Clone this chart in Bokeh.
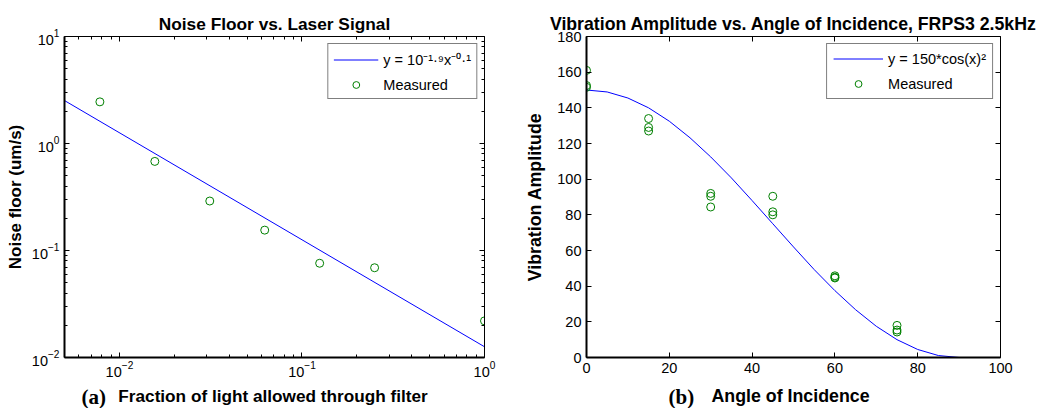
from bokeh.plotting import figure
from bokeh.models import (Range1d, FixedTicker, LogAxis, LinearAxis, Legend, LegendItem,
                          CustomJSTickFormatter, LogTickFormatter)
from bokeh.core.properties import value
from bokeh.layouts import row, column
from bokeh.embed import file_html
from bokeh.resources import INLINE

# ---------------- data: panel (a) ----------------
frac_light = [1/128, 1/64, 1/32, 1/16, 1/8, 1/4, 1.0]
noise_floor = [2.45, 0.68, 0.29, 0.155, 0.076, 0.069, 0.022]
fit_frac = [0.005, 1.0]
fit_noise = [2.52, 0.0126]
a_xticks = [0.01, 0.1, 1.0]
a_yticks = [0.01, 0.1, 1.0, 10.0]

# ---------------- data: panel (b) ----------------
angle_meas = [0, 0, 0, 15, 15, 15, 30, 30, 30, 45, 45, 45, 60, 60, 60, 75, 75, 75]
amp_meas = [161, 152.5, 151.5, 134, 129, 127, 92, 90.4, 84.4, 90.4, 81.7, 80,
            45.8, 45.0, 44.6, 18.0, 15.4, 14.3]
angle_fit = [0, 5, 10, 15, 20, 25, 30, 35, 40, 45, 50, 55, 60, 65, 70, 75, 80, 85, 90]
amp_fit = [150.0, 148.9, 145.5, 140.0, 132.5, 123.2, 112.5, 100.7, 88.0, 75.0,
           62.0, 49.3, 37.5, 26.8, 17.5, 10.0, 4.5, 1.1, 0.0]
b_xticks = [0, 20, 40, 60, 80, 100]
b_yticks = [0, 20, 40, 60, 80, 100, 120, 140, 160, 180]

# ---------------- texts ----------------
title_a = "Noise Floor vs. Laser Signal"
title_b = "Vibration Amplitude vs. Angle of Incidence, FRPS3 2.5kHz"
ylabel_a = "Noise floor (um/s)"
ylabel_b = "Vibration Amplitude"
xlabel_a = "Fraction of light allowed through filter"
xlabel_b = "Angle of Incidence"
tags = ["(a)", "(b)"]

BLUE = "#0000ff"
GREEN = "#008000"
SANS = "Liberation Sans"
TICK_FS = "14.5px"
MAIN_H = 382
STRIP_H = 26


def minor_log(lo_exp, hi_exp):
    out = []
    for e in range(lo_exp, hi_exp):
        for m in range(2, 10):
            out.append(m * 10.0 ** e)
    return out


def style_axis(ax, width=2, minor=False, labels=True, lab_fs="17px"):
    ax.axis_line_color = "black"
    ax.axis_line_width = width
    ax.major_tick_line_color = "black"
    ax.major_tick_in = 5
    ax.major_tick_out = 0
    if minor:
        ax.minor_tick_line_color = "black"
        ax.minor_tick_in = 3
        ax.minor_tick_out = 0
    else:
        ax.minor_tick_line_color = None
    ax.major_label_text_font = SANS
    ax.major_label_text_font_size = TICK_FS
    ax.major_label_text_color = "black"
    ax.axis_label_text_font = SANS
    ax.axis_label_text_font_size = lab_fs
    ax.axis_label_text_font_style = "bold"
    ax.axis_label_text_color = "black"
    if not labels:
        ax.formatter = CustomJSTickFormatter(code="return ''")
        ax.major_label_text_font_size = "1px"
        ax.major_label_standoff = 0


def style_title(p, fs):
    p.title.text_font = SANS
    p.title.text_font_size = fs
    p.title.text_font_style = "bold"
    p.title.text_color = "black"
    p.title.align = "center"
    p.title.standoff = 6


def style_legend(lg, lh, sp, pad, gw):
    lg.location = "top_right"
    lg.margin = 7
    lg.padding = pad
    lg.spacing = sp
    lg.label_height = lh
    lg.glyph_height = lh
    lg.glyph_width = gw
    lg.label_standoff = 5
    lg.label_text_font = SANS
    lg.label_text_font_size = TICK_FS
    lg.label_text_color = "black"
    lg.border_line_color = "black"
    lg.border_line_width = 1
    lg.background_fill_color = "white"
    lg.background_fill_alpha = 1.0


# ================= panel (a) =================
pa = figure(width=520, height=MAIN_H, x_axis_type="log", y_axis_type="log",
            x_range=Range1d(0.005, 1.0), y_range=Range1d(0.01, 10.0),
            title=title_a, output_backend="svg", toolbar_location=None,
            min_border_left=64, min_border_right=36, min_border_top=36,
            min_border_bottom=MAIN_H - 357)
pa.grid.visible = False
pa.outline_line_color = None
style_title(pa, "17.3px")

pa.xaxis.ticker = FixedTicker(ticks=a_xticks, minor_ticks=minor_log(-3, 0)[3:])
pa.yaxis.ticker = FixedTicker(ticks=a_yticks, minor_ticks=minor_log(-2, 1))
pa.xaxis.formatter = LogTickFormatter()
pa.yaxis.formatter = LogTickFormatter()
style_axis(pa.xaxis[0], width=2, minor=True)
style_axis(pa.yaxis[0], width=2, minor=True, lab_fs="17px")
pa.yaxis.axis_label = ylabel_a
pa.xaxis.major_label_standoff = 3
pa.yaxis.major_label_standoff = 5
pa.yaxis.axis_label_standoff = 4

ra = LogAxis(ticker=FixedTicker(ticks=a_yticks, minor_ticks=minor_log(-2, 1)))
style_axis(ra, width=1, minor=True, labels=False)
pa.add_layout(ra, "right")
ta = LogAxis(ticker=FixedTicker(ticks=a_xticks, minor_ticks=minor_log(-3, 0)[3:]))
style_axis(ta, width=1, minor=True, labels=False)
pa.add_layout(ta, "above")

fit_a = pa.line(fit_frac, fit_noise, line_color=BLUE, line_width=1)
meas_a = pa.scatter(frac_light, noise_floor, marker="circle", size=8,
                    fill_color=None, line_color=GREEN, line_width=1)
lg_a = Legend(items=[LegendItem(label="y = 10⁻¹·⁹x⁻⁰·¹", renderers=[fit_a]),
                     LegendItem(label="Measured", renderers=[meas_a])])
style_legend(lg_a, 17, 7, 5, 45)
pa.add_layout(lg_a)

# ================= panel (b) =================
pb = figure(width=528, height=MAIN_H,
            x_range=Range1d(0, 100), y_range=Range1d(0, 180),
            title=title_b, output_backend="svg", toolbar_location=None,
            min_border_left=66, min_border_right=48, min_border_top=36,
            min_border_bottom=MAIN_H - 360)
pb.grid.visible = False
pb.outline_line_color = None
style_title(pb, "17.7px")
pb.xaxis.ticker = FixedTicker(ticks=b_xticks)
pb.yaxis.ticker = FixedTicker(ticks=b_yticks)
style_axis(pb.xaxis[0], width=2)
style_axis(pb.yaxis[0], width=2, lab_fs="17.8px")
pb.yaxis.axis_label = ylabel_b
pb.xaxis.major_label_standoff = 5
pb.yaxis.major_label_standoff = 5
pb.yaxis.axis_label_standoff = 9

rb = LinearAxis(ticker=FixedTicker(ticks=b_yticks))
style_axis(rb, width=1, labels=False)
pb.add_layout(rb, "right")
tb = LinearAxis(ticker=FixedTicker(ticks=b_xticks))
style_axis(tb, width=1, labels=False)
pb.add_layout(tb, "above")

fit_b = pb.line(angle_fit, amp_fit, line_color=BLUE, line_width=1)
meas_b = pb.scatter(angle_meas, amp_meas, marker="circle", size=8,
                    fill_color=None, line_color=GREEN, line_width=1)
lg_b = Legend(items=[LegendItem(label="y = 150*cos(x)²", renderers=[fit_b]),
                     LegendItem(label="Measured", renderers=[meas_b])])
style_legend(lg_b, 17, 8, 6, 50)
pb.add_layout(lg_b)

# ============ bottom strip: panel tags + x-axis titles ============
strip = figure(width=1048, height=STRIP_H, x_range=Range1d(0, 1048), y_range=Range1d(0, STRIP_H),
               output_backend="svg", toolbar_location=None,
               min_border_left=0, min_border_right=0, min_border_top=0, min_border_bottom=0)
strip.axis.visible = False
strip.grid.visible = False
strip.outline_line_color = None
strip.text(x=[81, 668], y=[12, 12], text=tags,
           text_font=value("Liberation Serif"), text_font_style="bold",
           text_font_size="21px", text_baseline="middle", text_align="left", text_color="black")
strip.text(x=[272.5], y=[12.5], text=[xlabel_a],
           text_font=value(SANS), text_font_style="bold",
           text_font_size="17.2px", text_baseline="middle", text_align="center", text_color="black")
strip.text(x=[790], y=[12.5], text=[xlabel_b],
           text_font=value(SANS), text_font_style="bold",
           text_font_size="17.8px", text_baseline="middle", text_align="center", text_color="black")

layout = column(row(pa, pb), strip)
open("out.html", "w").write(file_html(layout, INLINE))
